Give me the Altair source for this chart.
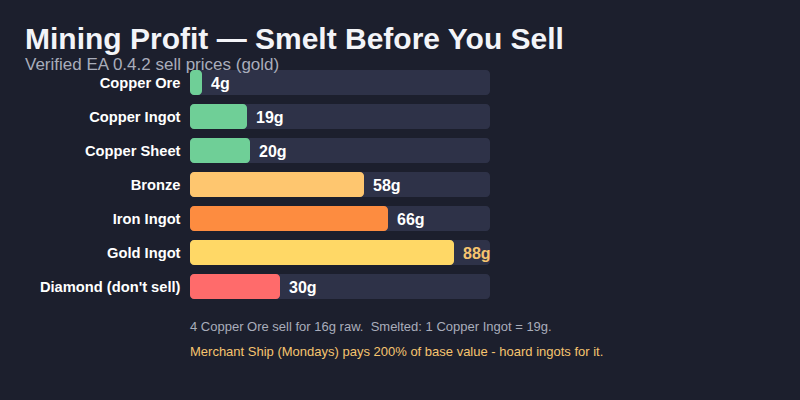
import altair as alt
import pandas as pd

items = ["Copper Ore", "Copper Ingot", "Copper Sheet", "Bronze", "Iron Ingot", "Gold Ingot", "Diamond (don't sell)"]
values = [4, 19, 20, 58, 66, 88, 30]
bar_colors = ["#6fcf97", "#6fcf97", "#6fcf97", "#fec66f", "#fd8c40", "#ffd866", "#ff6b6b"]
label_colors = ["#ffffff", "#ffffff", "#ffffff", "#ffffff", "#ffffff", "#f6c46f", "#ffffff"]
track_max = 100
notes = ["4 Copper Ore sell for 16g raw.\u00a0 Smelted: 1 Copper Ingot = 19g.",
         "Merchant Ship (Mondays) pays 200% of base value - hoard ingots for it."]
note_colors = ["#a9adbb", "#f6c46f"]
BG = "#1c1f2d"

df = pd.DataFrame({
    "item": items,
    "value": values,
    "color": bar_colors,
    "lcolor": label_colors,
    "track": [track_max] * len(items),
    "label": [f"{v}g" for v in values],
})

y = alt.Y("item:N", sort=items, title=None,
          scale=alt.Scale(paddingInner=0, paddingOuter=0),
          axis=alt.Axis(domain=False, ticks=False, grid=False, labelColor="#ffffff",
                        labelFontWeight="bold", labelFontSize=14.7, labelPadding=10,
                        labelOffset=1.5, labelFont="Liberation Sans"))
xs = alt.Scale(domain=[0, 100], nice=False)

base = alt.Chart(df)
track = base.mark_bar(height=25, cornerRadius=4, color="#2e3248").encode(
    y=y, x=alt.X("track:Q", scale=xs, axis=None))
bars = base.mark_bar(height=25, cornerRadius=4).encode(
    y=y, x=alt.X("value:Q", scale=xs, axis=None),
    color=alt.Color("color:N", scale=None))
labels = base.mark_text(align="left", dx=9, dy=1.5, fontSize=16, fontWeight="bold",
                        font="Liberation Sans").encode(
    y=y, x=alt.X("value:Q", scale=xs, axis=None), text="label:N",
    color=alt.Color("lcolor:N", scale=None))

title = alt.Chart(pd.DataFrame({"t": ["Mining Profit — Smelt Before You Sell"]})).mark_text(
    align="left", baseline="alphabetic", fontSize=30, fontWeight="bold",
    font="Liberation Sans", color="#f3f4f8").encode(
    text="t:N", x=alt.value(-165), y=alt.value(-16.5))
subtitle = alt.Chart(pd.DataFrame({"t": ["Verified EA 0.4.2 sell prices (gold)"]})).mark_text(
    align="left", baseline="alphabetic", fontSize=17,
    font="Liberation Sans", color="#a9adbb").encode(
    text="t:N", x=alt.value(-165), y=alt.value(4))

ndf = pd.DataFrame({"note": notes, "c": note_colors, "yy": [265.5, 290]})
foot = alt.Chart(ndf).mark_text(align="left", baseline="alphabetic", fontSize=13,
                                font="Liberation Sans").encode(
    text="note:N", x=alt.value(0), y=alt.Y("yy:Q", scale=None),
    color=alt.Color("c:N", scale=None))

chart = alt.layer(track, bars, labels, title, subtitle, foot).properties(
    width=300, height=238, background=BG,
    autosize=alt.AutoSizeParams(type="none"),
    padding={"left": 182, "top": 57.5, "right": 302, "bottom": 88.5},
).configure_view(stroke=None)

saved = False
try:
    import jinja2
    from altair.utils import html as _h

    class BgTemplate(jinja2.Template):
        def render(self, *args, **kwargs):
            s = _h.HTML_TEMPLATE.render(*args, **kwargs)
            return s.replace("<style>", "<style>\n    body { background: %s; }" % BG, 1)

    tpl = jinja2.Environment().from_string("x", template_class=BgTemplate)
    chart.save("out.html", embed_options={"renderer": "svg", "actions": False}, template=tpl)
    saved = True
except Exception:
    saved = False
if not saved:
    chart.save("out.html", embed_options={"renderer": "svg", "actions": False})
